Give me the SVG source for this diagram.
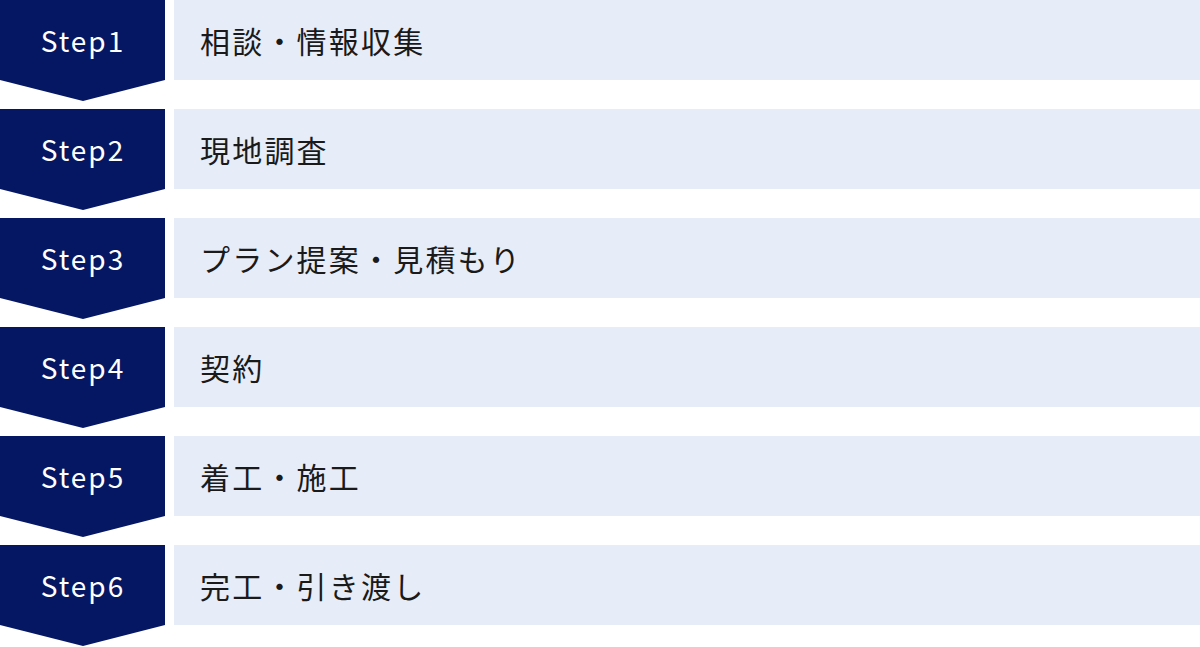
<svg xmlns="http://www.w3.org/2000/svg" width="1200" height="647" viewBox="0 0 1200 647">
<defs>
<style>
.chev{fill:#051762}
.bar{fill:#e6ecf8}
.st{font-family:"Noto Sans CJK JP","Noto Sans",sans-serif;font-size:28px;fill:#ffffff;text-anchor:middle;letter-spacing:2px}
.lb{font-family:"Noto Sans CJK JP","Noto Sans",sans-serif;font-size:30px;fill:#1a1a1a;letter-spacing:2.2px}
</style>
<path id="chevShape" d="M0 0H165V80L83 101L0 80Z"/>
</defs>
<rect width="1200" height="647" fill="#ffffff"/>
<g id="step1" transform="translate(0,0)">
<use href="#chevShape" class="chev"/><rect class="bar" x="174" y="0" width="1026" height="80"/>
<text class="st" x="83" y="52">Step1</text><text class="lb" x="200" y="53">相談・情報収集</text>
</g>
<g id="step2" transform="translate(0,109)">
<use href="#chevShape" class="chev"/><rect class="bar" x="174" y="0" width="1026" height="80"/>
<text class="st" x="83" y="52">Step2</text><text class="lb" x="200" y="53">現地調査</text>
</g>
<g id="step3" transform="translate(0,218)">
<use href="#chevShape" class="chev"/><rect class="bar" x="174" y="0" width="1026" height="80"/>
<text class="st" x="83" y="52">Step3</text><text class="lb" x="200" y="53">プラン提案・見積もり</text>
</g>
<g id="step4" transform="translate(0,327)">
<use href="#chevShape" class="chev"/><rect class="bar" x="174" y="0" width="1026" height="80"/>
<text class="st" x="83" y="52">Step4</text><text class="lb" x="200" y="53">契約</text>
</g>
<g id="step5" transform="translate(0,436)">
<use href="#chevShape" class="chev"/><rect class="bar" x="174" y="0" width="1026" height="80"/>
<text class="st" x="83" y="52">Step5</text><text class="lb" x="200" y="53">着工・施工</text>
</g>
<g id="step6" transform="translate(0,545)">
<use href="#chevShape" class="chev"/><rect class="bar" x="174" y="0" width="1026" height="80"/>
<text class="st" x="83" y="52">Step6</text><text class="lb" x="200" y="53">完工・引き渡し</text>
</g>
<g id="connectors"></g>
</svg>
